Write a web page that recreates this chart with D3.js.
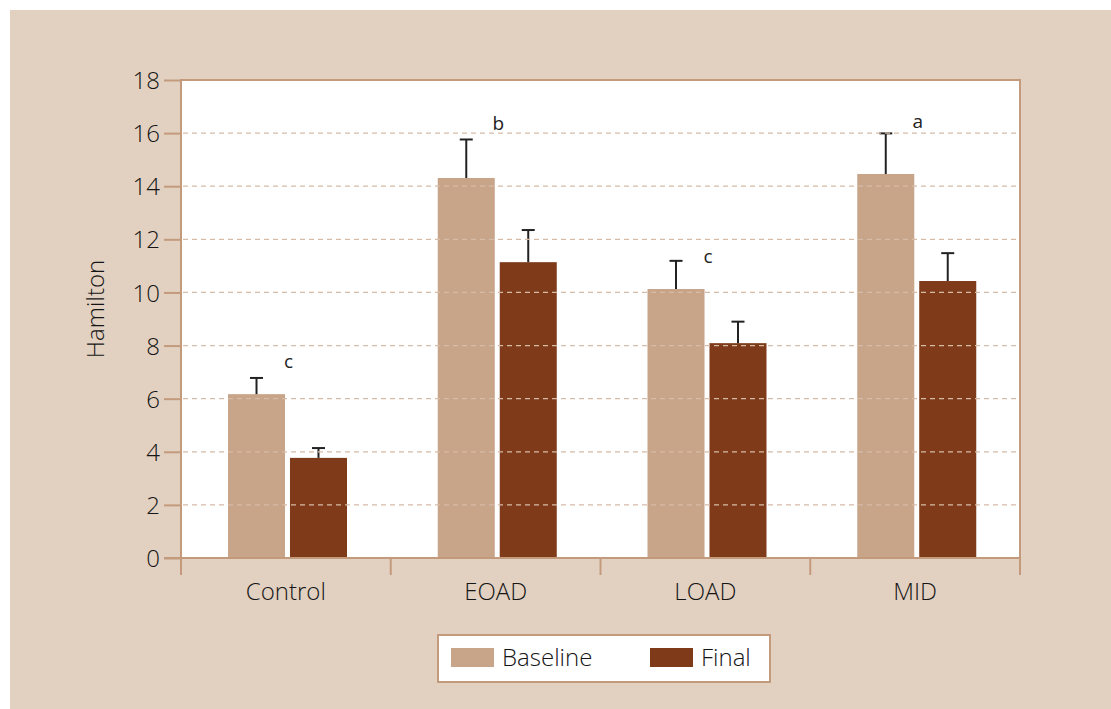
<!DOCTYPE html>
<html><head><meta charset="utf-8">
<script src="https://cdn.jsdelivr.net/npm/d3@7"></script>
<style>
body{margin:0;background:#fff;}
svg{display:block;font-family:"Open Sans","Liberation Sans",Arial,sans-serif;font-weight:300;}
</style></head>
<body>
<svg id="chart" width="1111" height="709"></svg>
<script>
const categories = ["Control","EOAD","LOAD","MID"];
const seriesNames = ["Baseline","Final"];
const baseline = [6.17, 14.31, 10.13, 14.46];
const baselineErr = [0.61, 1.45, 1.06, 1.53];
const finalVals = [3.77, 11.14, 8.09, 10.43];
const finalErr = [0.37, 1.21, 0.81, 1.05];
const letters = ["c","b","c","a"];
const letterY = [7.15, 16.1, 11.12, 16.2];
const yTicks = [0,2,4,6,8,10,12,14,16,18];

const colors = {Baseline:"#c8a488", Final:"#7e3a19"};
const axisColor = "#c49a7c";
const gridColor = "#d6bba6";
const textColor = "#151515";

const svg = d3.select("#chart");
svg.append("rect").attr("x",10).attr("y",10).attr("width",1101).attr("height",699).attr("fill","#e2d1c1");

const m = {left:181, right:1020, top:80, bottom:558};
const x = d3.scaleBand().domain(categories).range([m.left, m.right]);
const y = d3.scaleLinear().domain([0,18]).range([m.bottom, m.top]);
const inner = d3.scaleBand().domain(seriesNames).range([0,119]).paddingInner(0.08).paddingOuter(0);
const groupOffset = 47;

svg.append("rect").attr("x",m.left).attr("y",m.top).attr("width",m.right-m.left).attr("height",m.bottom-m.top).attr("fill","#fff");

const data = categories.map((c,i)=>({cat:c, vals:[
  {s:"Baseline", v:baseline[i], e:baselineErr[i]},
  {s:"Final", v:finalVals[i], e:finalErr[i]}]}));

// bars
const g = svg.append("g");
data.forEach(d=>{
  d.vals.forEach(b=>{
    const bx = x(d.cat)+groupOffset+inner(b.s);
    g.append("rect").attr("x",bx).attr("y",y(b.v)).attr("width",inner.bandwidth()).attr("height",y(0)-y(b.v)).attr("fill",colors[b.s]);
    const cx = bx+inner.bandwidth()/2;
    g.append("line").attr("x1",cx).attr("x2",cx).attr("y1",y(b.v)).attr("y2",y(b.v+b.e)).attr("stroke","#222").attr("stroke-width",2);
    g.append("line").attr("x1",cx-6.5).attr("x2",cx+6.5).attr("y1",y(b.v+b.e)).attr("y2",y(b.v+b.e)).attr("stroke","#222").attr("stroke-width",2);
  });
});

// gridlines on top of bars
svg.append("g").selectAll("line").data(yTicks.filter(t=>t>0&&t<18)).join("line")
  .attr("x1",m.left+2).attr("x2",m.right).attr("y1",d=>y(d)).attr("y2",d=>y(d))
  .attr("stroke",gridColor).attr("stroke-width",1.3).attr("stroke-dasharray","5,4");

// letters
svg.append("g").selectAll("text").data(categories).join("text")
  .attr("x",(d,i)=>x(d)+groupOffset+inner("Baseline")+inner.bandwidth()/2+32)
  .attr("y",(d,i)=>y(letterY[i]))
  .attr("text-anchor","middle").attr("font-size",19).attr("font-weight",400).attr("fill","#222")
  .text((d,i)=>letters[i]);

// frame top/right
svg.append("path").attr("d",`M${m.left},${m.top}H${m.right}V${m.bottom}`).attr("fill","none").attr("stroke",axisColor).attr("stroke-width",2);

// y axis
const yAxis = d3.axisLeft(y).tickValues(yTicks).tickSize(17).tickPadding(4).tickFormat(d3.format("d"));
const ya = svg.append("g").attr("transform",`translate(${m.left},0)`).call(yAxis)
  .attr("font-family",null).attr("font-size",null);
ya.select(".domain").remove();
ya.selectAll(".tick line").attr("stroke",axisColor).attr("stroke-width",2);
ya.selectAll(".tick text").attr("font-size",24).attr("fill",textColor).attr("dy","0.36em");
svg.append("line").attr("x1",m.left).attr("x2",m.left).attr("y1",m.top-1).attr("y2",575).attr("stroke",axisColor).attr("stroke-width",2);

// x axis
svg.append("line").attr("x1",m.left-17).attr("x2",m.right+1).attr("y1",m.bottom).attr("y2",m.bottom).attr("stroke",axisColor).attr("stroke-width",2);
const boundaries = categories.map(c=>x(c)).concat([m.right]);
svg.append("g").selectAll("line").data(boundaries).join("line")
  .attr("x1",d=>d).attr("x2",d=>d).attr("y1",m.bottom).attr("y2",575).attr("stroke",axisColor).attr("stroke-width",2);
svg.append("g").selectAll("text").data(categories).join("text")
  .attr("x",d=>x(d)+x.bandwidth()/2).attr("y",600)
  .attr("text-anchor","middle").attr("font-size",24).attr("fill",textColor).text(d=>d);

// y label
svg.append("text").attr("transform","translate(104,309) rotate(-90)").attr("text-anchor","middle")
  .attr("font-size",24).attr("fill",textColor).text("Hamilton");

// legend
const lg = svg.append("g");
lg.append("rect").attr("x",438).attr("y",635).attr("width",332).attr("height",47).attr("fill","#fff").attr("stroke",axisColor).attr("stroke-width",2);
const legX = [451, 650];
seriesNames.forEach((s,i)=>{
  lg.append("rect").attr("x",legX[i]).attr("y",648).attr("width",43).attr("height",19).attr("fill",colors[s]);
  lg.append("text").attr("x",legX[i]+51).attr("y",666).attr("font-size",24).attr("fill",textColor).text(s);
});
</script>
</body></html>
